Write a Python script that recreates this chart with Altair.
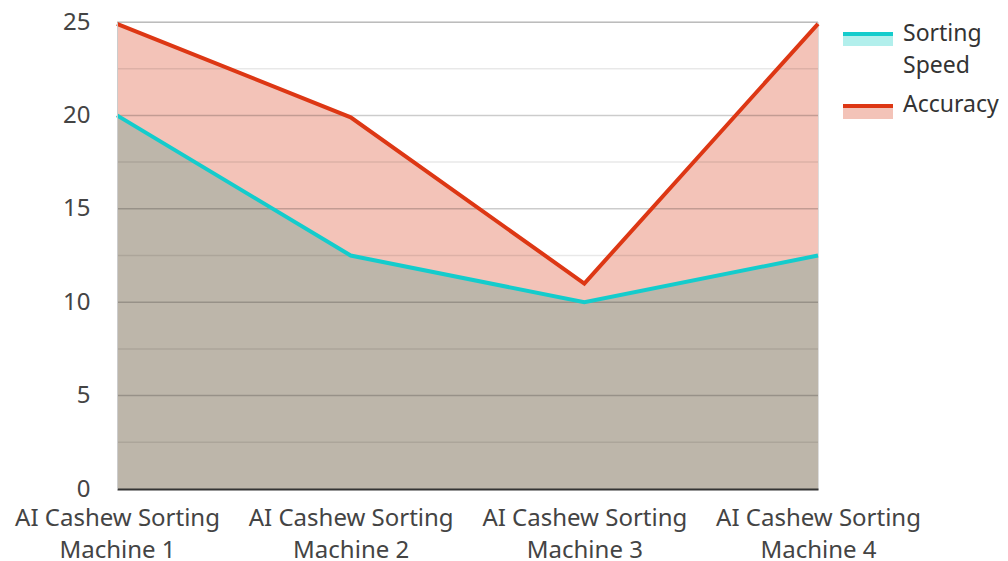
import altair as alt
import pandas as pd

machines = ["AI Cashew Sorting Machine 1", "AI Cashew Sorting Machine 2",
            "AI Cashew Sorting Machine 3", "AI Cashew Sorting Machine 4"]
sorting_speed = [20, 12.5, 10, 12.5]
accuracy = [24.9, 19.9, 11.0, 24.9]
major_ticks = [5, 10, 15, 20, 25]
minor_ticks = [2.5, 7.5, 12.5, 17.5, 22.5]

FONT = "Noto Sans"
FS = 24
RED = "#dd3714"
CYAN = "#14cccc"
RED_FILL = "#f3c3b8"
OVERLAP_FILL = "#bdb6aa"
CYAN_FILL = "#b2efec"

df = pd.DataFrame({"machine": machines, "speed": sorting_speed, "acc": accuracy})

x = alt.X("machine:N", sort=machines,
          scale=alt.Scale(type="point", padding=0),
          axis=alt.Axis(title=None, labelAngle=0, labelFont=FONT, labelFontSize=FS,
                        labelColor="#444444", labelLineHeight=32, labelPadding=17,
                        labelLimit=0,
                        labelExpr="[slice(datum.label,0,17), slice(datum.label,18)]",
                        ticks=False, domainColor="#333333", domainWidth=2, grid=False,
                        zindex=1))
yscale = alt.Scale(domain=[0, 25], nice=False)
yaxis = alt.Axis(title=None, values=[0, 5, 10, 15, 20, 25], labelFont=FONT, labelFontSize=FS,
                 labelColor="#444444", labelPadding=27, ticks=False, grid=False,
                 domainColor="#cccccc", domainWidth=1, zindex=1)

base = alt.Chart(df)
acc_area = base.mark_area(color=RED_FILL, opacity=1).encode(
    x=x, y=alt.Y("acc:Q", scale=yscale, axis=yaxis))
spd_area = base.mark_area(color=OVERLAP_FILL, opacity=1).encode(
    x=x, y=alt.Y("speed:Q", scale=yscale))

major = alt.Chart(pd.DataFrame({"v": major_ticks})).mark_rule(
    color="black", opacity=0.2, strokeWidth=1.5).encode(y=alt.Y("v:Q", scale=yscale))
minor = alt.Chart(pd.DataFrame({"v": minor_ticks})).mark_rule(
    color="black", opacity=0.09, strokeWidth=1.5).encode(y=alt.Y("v:Q", scale=yscale))

acc_line = base.mark_line(color=RED, strokeWidth=4).encode(
    x=x, y=alt.Y("acc:Q", scale=yscale))
spd_line = base.mark_line(color=CYAN, strokeWidth=4).encode(
    x=x, y=alt.Y("speed:Q", scale=yscale))

# custom legend
leg = pd.DataFrame({"d": [0]})
def rect(x1, x2, y1, y2, color):
    return alt.Chart(leg).mark_rect(color=color).encode(
        x=alt.value(x1), x2=alt.value(x2), y=alt.value(y1), y2=alt.value(y2))

def txt(xv, yv, s):
    return alt.Chart(leg).mark_text(text=s, font=FONT, fontSize=23, color="#333333",
                                    align="left", baseline="middle").encode(
        x=alt.value(xv), y=alt.value(yv))

legend = (rect(726, 776, 10, 24, CYAN_FILL) + rect(726, 776, 10, 14, CYAN) +
          rect(726, 776, 82, 97, RED_FILL) + rect(726, 776, 82, 86, RED) +
          txt(786, 12, "Sorting") + txt(786, 44, "Speed") + txt(786, 83, "Accuracy"))

chart = alt.layer(acc_area, spd_area, minor, major, acc_line, spd_line, legend).properties(
    width=701, height=467,
    autosize=alt.AutoSizeParams(type="none"),
    padding={"left": 109, "top": 14, "right": 182, "bottom": 72},
).configure_view(stroke=None).configure(background="white")

chart.save("out.html", embed_options={"renderer": "svg", "actions": False})
